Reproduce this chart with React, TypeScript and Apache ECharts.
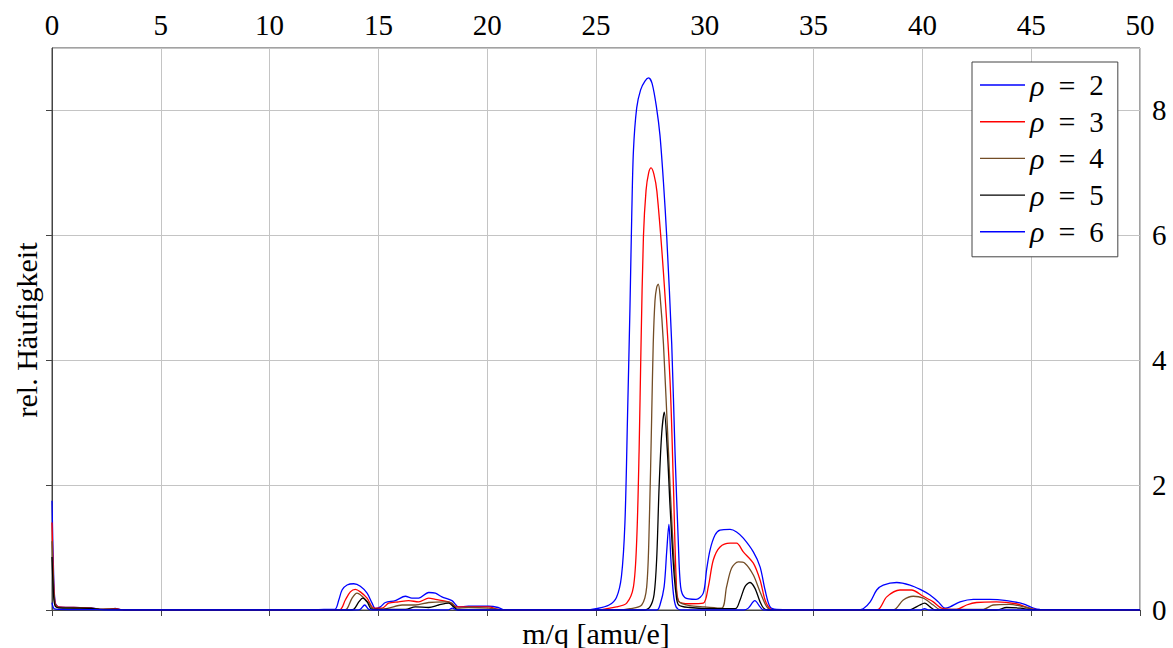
import React, { useEffect, useRef } from "react";
import * as echarts from "echarts";

// Mass spectra: relative abundance over m/q for several values of rho
const seriesNames = ["ρ = 2", "ρ = 3", "ρ = 4", "ρ = 5", "ρ = 6"];
const seriesColors = ["#0000ff", "#ff0000", "#734d26", "#000000", "#0000ff"];

const rho2: [number, number][] = [
  [0, 1.75], [0.08, 0.5], [0.15, 0.12], [0.3, 0.05], [1.0, 0.04], [1.8, 0.035], [2.2, 0.01], [2.6, 0.005],
  [2.9, 0.025], [3.2, 0.005], [3.6, 0], [12, 0], [12.5, 0.01], [13.0, 0.01], [13.18, 0.16], [13.33, 0.32],
  [13.56, 0.4], [13.87, 0.42], [14.17, 0.38], [14.48, 0.27], [14.71, 0.11], [14.86, 0.02], [15.09, 0.05],
  [15.32, 0.12], [15.78, 0.15], [16.24, 0.22], [16.54, 0.19], [16.85, 0.19], [17.31, 0.28], [17.62, 0.27],
  [17.92, 0.21], [18.38, 0.15], [18.69, 0.05], [19.14, 0.06], [20.06, 0.06], [20.5, 0.04], [20.8, 0],
  [24.5, 0], [25.0, 0.02], [25.6, 0.08], [25.94, 0.2], [26.17, 0.54], [26.33, 1.4], [26.45, 3.12],
  [26.56, 4.83], [26.64, 6.27], [26.72, 7.35], [26.87, 8.04], [27.05, 8.33], [27.25, 8.47], [27.42, 8.52],
  [27.58, 8.43], [27.78, 8.05], [27.94, 7.6], [28.1, 6.85], [28.25, 5.98], [28.48, 4.26], [28.63, 2.54],
  [28.78, 1.11], [28.89, 0.37], [29.08, 0.2], [29.6, 0.17], [29.93, 0.27], [30.08, 0.64], [30.24, 0.96],
  [30.47, 1.2], [30.7, 1.28], [31.16, 1.29], [31.46, 1.25], [31.77, 1.15], [32.23, 0.93], [32.54, 0.69],
  [32.77, 0.32], [33.0, 0.05], [33.3, 0.01], [37.0, 0], [37.28, 0.02], [37.6, 0.13], [37.9, 0.32],
  [38.2, 0.4], [38.82, 0.44], [39.43, 0.4], [39.9, 0.33], [40.35, 0.24], [40.73, 0.13], [41.04, 0.03],
  [41.27, 0.05], [41.73, 0.13], [42.34, 0.17], [43.1, 0.17], [43.87, 0.15], [44.63, 0.1], [45.1, 0.03],
  [45.4, 0.01], [50, 0.005],
];

const rho3: [number, number][] = [
  [0, 1.4], [0.08, 0.4], [0.15, 0.1], [0.3, 0.05], [1.0, 0.04], [1.8, 0.03], [2.2, 0.01], [2.9, 0.02],
  [3.3, 0], [13.2, 0], [13.48, 0.16], [13.71, 0.29], [13.94, 0.33], [14.17, 0.29], [14.48, 0.19],
  [14.79, 0.03], [15.17, 0.03], [15.47, 0.11], [15.93, 0.13], [16.39, 0.15], [16.85, 0.13], [17.31, 0.19],
  [17.62, 0.17], [18.23, 0.13], [18.61, 0.05], [19.14, 0.05], [20.06, 0.05], [20.5, 0.01], [20.8, 0],
  [25.0, 0], [25.94, 0.05], [26.41, 0.11], [26.72, 0.37], [26.87, 1.11], [26.98, 2.54], [27.07, 4.26],
  [27.18, 5.98], [27.3, 6.72], [27.42, 7.0], [27.53, 7.08], [27.66, 6.98], [27.8, 6.7], [28.1, 5.4],
  [28.4, 3.69], [28.56, 1.97], [28.68, 0.54], [28.8, 0.14], [29.3, 0.1], [29.93, 0.11], [30.16, 0.37],
  [30.39, 0.8], [30.7, 1.01], [31.16, 1.07], [31.46, 1.07], [31.77, 0.93], [32.23, 0.75], [32.54, 0.48],
  [32.77, 0.16], [33.0, 0.02], [33.3, 0], [37.7, 0], [37.98, 0.01], [38.36, 0.21], [38.97, 0.32],
  [39.5, 0.32], [40.04, 0.22], [40.5, 0.13], [40.88, 0.03], [41.57, 0.01], [42.03, 0.08], [42.49, 0.12],
  [43.4, 0.13], [44.3, 0.1], [44.9, 0.03], [45.3, 0.005], [50, 0.003],
];

const rho4: [number, number][] = [
  [0, 1.1], [0.08, 0.3], [0.15, 0.08], [0.3, 0.04], [1.0, 0.035], [1.8, 0.03], [2.2, 0.01], [2.9, 0.015],
  [3.3, 0], [13.4, 0], [13.56, 0.02], [13.79, 0.19], [14.02, 0.27], [14.25, 0.22], [14.56, 0.11],
  [14.79, 0.01], [15.1, 0.01], [15.47, 0.03], [16.09, 0.08], [16.7, 0.08], [17.31, 0.12], [18.07, 0.13],
  [18.38, 0.11], [18.61, 0.03], [19.14, 0.04], [20.06, 0.03], [20.5, 0.01], [20.8, 0], [26.0, 0],
  [26.56, 0.02], [27.1, 0.08], [27.33, 0.37], [27.45, 1.4], [27.56, 3.12], [27.63, 4.26], [27.71, 4.95],
  [27.79, 5.17], [27.86, 5.22], [27.94, 5.05], [28.1, 4.26], [28.33, 2.54], [28.53, 1.11], [28.68, 0.37],
  [28.8, 0.14], [29.3, 0.07], [30.0, 0.05], [30.77, 0.03], [31.0, 0.37], [31.23, 0.67], [31.54, 0.77],
  [31.84, 0.75], [32.23, 0.56], [32.54, 0.29], [32.85, 0.05], [33.1, 0], [38.5, 0], [38.74, 0.01],
  [39.12, 0.16], [39.58, 0.22], [40.04, 0.19], [40.5, 0.08], [40.8, 0.01], [42.8, 0.01], [43.25, 0.08],
  [44.0, 0.09], [44.8, 0.04], [45.2, 0.005], [50, 0.003],
];

const rho5: [number, number][] = [
  [0, 0.85], [0.08, 0.2], [0.15, 0.06], [0.3, 0.035], [1.0, 0.03], [1.8, 0.025], [2.2, 0.01], [2.9, 0.01],
  [3.3, 0], [13.7, 0], [13.87, 0.01], [14.1, 0.13], [14.28, 0.19], [14.48, 0.13], [14.71, 0.01],
  [16.24, 0.01], [16.7, 0.05], [17.31, 0.04], [17.77, 0.08], [18.23, 0.11], [18.46, 0.05], [18.65, 0],
  [27.2, 0], [27.48, 0.05], [27.67, 0.25], [27.79, 0.83], [27.9, 1.97], [28.02, 2.83], [28.14, 3.17],
  [28.28, 2.54], [28.4, 1.68], [28.56, 0.71], [28.68, 0.25], [28.8, 0.08], [29.3, 0.04], [30.5, 0.02],
  [31.4, 0.02], [31.62, 0.16], [31.84, 0.37], [32.07, 0.44], [32.3, 0.35], [32.54, 0.13], [32.7, 0.03],
  [32.9, 0], [39.3, 0], [39.5, 0.01], [39.88, 0.08], [40.1, 0.11], [40.35, 0.05], [40.6, 0], [43.4, 0],
  [43.87, 0.04], [44.5, 0.03], [45.0, 0.005], [50, 0],
];

const rho6: [number, number][] = [
  [0, 0.12], [0.1, 0.02], [0.3, 0.01], [2, 0.005], [3, 0], [14.0, 0], [14.17, 0.01], [14.37, 0.08],
  [14.56, 0.01], [14.8, 0], [18.2, 0], [18.4, 0.03], [18.6, 0], [27.8, 0], [27.94, 0.08], [28.13, 0.37],
  [28.25, 0.94], [28.35, 1.37], [28.44, 0.82], [28.56, 0.25], [28.68, 0.05], [28.9, 0], [31.8, 0],
  [32.0, 0.03], [32.3, 0.15], [32.54, 0.05], [32.7, 0], [39.9, 0], [40.1, 0.02], [40.3, 0], [50, 0],
];

const seriesData = [rho2, rho3, rho4, rho5, rho6];

const xTicks = { min: 0, max: 50, interval: 5 };
const yTicks = { min: 0, max: 9, interval: 2 };

const xName = "m/q [amu/e]";
const yName = "rel. Häufigkeit";

const SERIF = "'Liberation Serif', 'Times New Roman', serif";

export default function App() {
  const ref = useRef<HTMLDivElement>(null);

  useEffect(() => {
    if (!ref.current) return;
    const chart = echarts.init(ref.current, null, { renderer: "svg" });

    const legendFormatter = (name: string) => {
      const value = name.split("=")[1].trim();
      return `{r|ρ}{e|=}{n|${value}}`;
    };

    chart.setOption({
      animation: false,
      backgroundColor: "#ffffff",
      grid: {
        left: 52,
        right: 33,
        top: 48,
        bottom: 38,
        show: true,
        borderColor: "#444444",
        borderWidth: 1,
        backgroundColor: "transparent",
      },
      legend: {
        data: seriesNames,
        orient: "vertical",
        left: 972,
        top: 62,
        padding: [8, 14, 10, 8],
        itemGap: 6.7,
        itemWidth: 45,
        itemHeight: 1.4,
        icon: "rect",
        backgroundColor: "#ffffff",
        borderColor: "#444444",
        borderWidth: 1,
        borderRadius: 0,
        formatter: legendFormatter,
        textStyle: {
          fontFamily: SERIF,
          fontSize: 29,
          lineHeight: 30,
          color: "#000000",
          rich: {
            r: { fontFamily: SERIF, fontStyle: "italic", fontSize: 30, color: "#000000" },
            e: { fontFamily: SERIF, fontSize: 30, padding: [0, 14, 0, 14], color: "#000000" },
            n: { fontFamily: SERIF, fontSize: 29, color: "#000000" },
          },
        },
      },
      xAxis: {
        type: "value",
        position: "top",
        min: xTicks.min,
        max: xTicks.max,
        interval: xTicks.interval,
        axisLine: { show: true, lineStyle: { color: "#444444", width: 1 } },
        axisTick: { show: true, inside: true, length: 6, lineStyle: { color: "#444444" } },
        splitLine: { show: true, lineStyle: { color: "#c4c4c4", width: 1 } },
        axisLabel: { fontFamily: SERIF, fontSize: 29, color: "#000000", margin: 9 },
      },
      yAxis: {
        type: "value",
        position: "right",
        min: yTicks.min,
        max: yTicks.max,
        interval: yTicks.interval,
        axisLine: { show: true, lineStyle: { color: "#444444", width: 1 } },
        axisTick: { show: true, inside: true, length: 6, lineStyle: { color: "#444444" } },
        splitLine: { show: true, lineStyle: { color: "#c4c4c4", width: 1 } },
        axisLabel: {
          fontFamily: SERIF,
          fontSize: 29,
          color: "#000000",
          margin: 12,
          showMaxLabel: false,
        },
      },
      series: seriesNames.map((name, i) => ({
        name,
        type: "line",
        data: seriesData[i],
        smooth: 0.3,
        symbol: "none",
        lineStyle: { color: seriesColors[i], width: 1.3 },
        itemStyle: { color: seriesColors[i] },
      })),
      graphic: [
        {
          type: "text",
          x: 596,
          y: 633,
          style: {
            text: xName,
            fontFamily: SERIF,
            fontSize: 30,
            fill: "#000000",
            textAlign: "center",
            textVerticalAlign: "middle",
          },
        },
        {
          type: "text",
          x: 26,
          y: 330,
          rotation: Math.PI / 2,
          style: {
            text: yName,
            fontFamily: SERIF,
            fontSize: 30,
            fill: "#000000",
            textAlign: "center",
            textVerticalAlign: "middle",
          },
        },
      ],
    });

    return () => chart.dispose();
  }, []);

  return <div ref={ref} style={{ width: 1173, height: 648, position: "absolute", left: 0, top: 0 }} />;
}
